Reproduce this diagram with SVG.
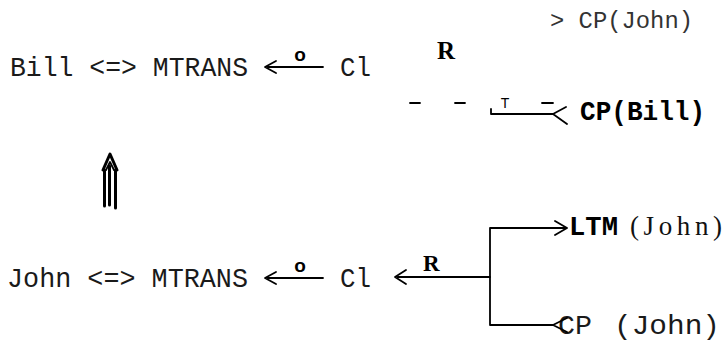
<svg xmlns="http://www.w3.org/2000/svg" width="723" height="341" viewBox="0 0 723 341">
<style>
.mono{font-family:"Liberation Mono","DejaVu Sans Mono",monospace;font-size:28px;fill:#1a1a1a}
.lite{font-family:"Liberation Mono","DejaVu Sans Mono",monospace;font-size:24px;fill:#333}
.bmono{font-family:"Liberation Mono","DejaVu Sans Mono",monospace;font-size:28px;font-weight:bold;fill:#000}
.bser{font-family:"Liberation Serif","DejaVu Serif",serif;font-weight:bold;fill:#000}
.ser{font-family:"Liberation Serif","DejaVu Serif",serif;fill:#111}
.lbl{font-family:"Liberation Sans","DejaVu Sans",sans-serif;font-weight:bold;font-size:19px;fill:#000}
.tl{font-family:"Liberation Sans","DejaVu Sans",sans-serif;font-size:14px;fill:#000}
.ln{stroke:#000;stroke-width:1.8;fill:none;stroke-linecap:round;stroke-linejoin:round}
.thk{stroke:#000;stroke-width:3;fill:none;stroke-linecap:round;stroke-linejoin:round}
</style>
<rect width="723" height="341" fill="#fff"/>
<g id="bill-mtrans">
<text class="mono" x="10" y="76" textLength="238" lengthAdjust="spacingAndGlyphs">Bill &lt;=&gt; MTRANS</text>
</g>
<g id="cl-1">
<text class="mono" x="340" y="76" textLength="31" lengthAdjust="spacingAndGlyphs">Cl</text>
</g>
<g id="cp-john-top">
<text class="lite" x="550" y="28" textLength="143" lengthAdjust="spacingAndGlyphs">&gt; CP(John)</text>
</g>
<g id="cp-bill">
<text class="bmono" x="580" y="120" textLength="125" lengthAdjust="spacingAndGlyphs">CP(Bill)</text>
</g>
<g id="john-mtrans">
<text class="mono" x="7" y="287" textLength="241" lengthAdjust="spacingAndGlyphs">John &lt;=&gt; MTRANS</text>
</g>
<g id="cl-2">
<text class="mono" x="340" y="287" textLength="31" lengthAdjust="spacingAndGlyphs">Cl</text>
</g>
<g id="ltm-john">
<text class="bmono" x="569" y="235" textLength="49" lengthAdjust="spacingAndGlyphs">LTM</text>
<text class="ser" x="630" y="235" font-size="27" textLength="92" lengthAdjust="spacing">(John)</text>
</g>
<g id="cp-john-bottom">
<text class="mono" x="558" y="334" textLength="34" lengthAdjust="spacingAndGlyphs">CP</text>
<text class="mono" x="614" y="334" textLength="106" lengthAdjust="spacingAndGlyphs">(John)</text>
</g>
<g id="connectors">
<path class="ln" d="M268 67 H323 M276 61 L265 67 L276 73"/>
<text class="lbl" x="300" y="61" text-anchor="middle">o</text>
<text class="bser" x="437" y="59" font-size="25">R</text>
<path class="ln" d="M410 103 H420 M455 103 H465 M542 103 H553"/>
<path class="ln" d="M491 109 V114 H553 M566 107 L553 114 L567 124"/>
<text class="tl" x="505" y="108" text-anchor="middle">T</text>
<path class="thk" d="M103 170 L110 154 L117 170"/>
<path class="ln" d="M106 170 L110 162 L114 170"/>
<path class="thk" d="M104.5 170 V206 M115.5 170 V208 M109.5 166 V205"/>
<path class="ln" d="M268 278 H323 M276 272 L265 278 L276 284"/>
<text class="lbl" x="300" y="272" text-anchor="middle">o</text>
<path class="ln" d="M398 277 H490 M406 270 L395 277 L406 284"/>
<text class="bser" x="423" y="271" font-size="23">R</text>
<path class="ln" d="M490 228 V325 M490 228 H567 M555 221 L567 228 L555 235 M490 325 H553 M567 318 L553 325 L567 332"/>
</g>
</svg>
